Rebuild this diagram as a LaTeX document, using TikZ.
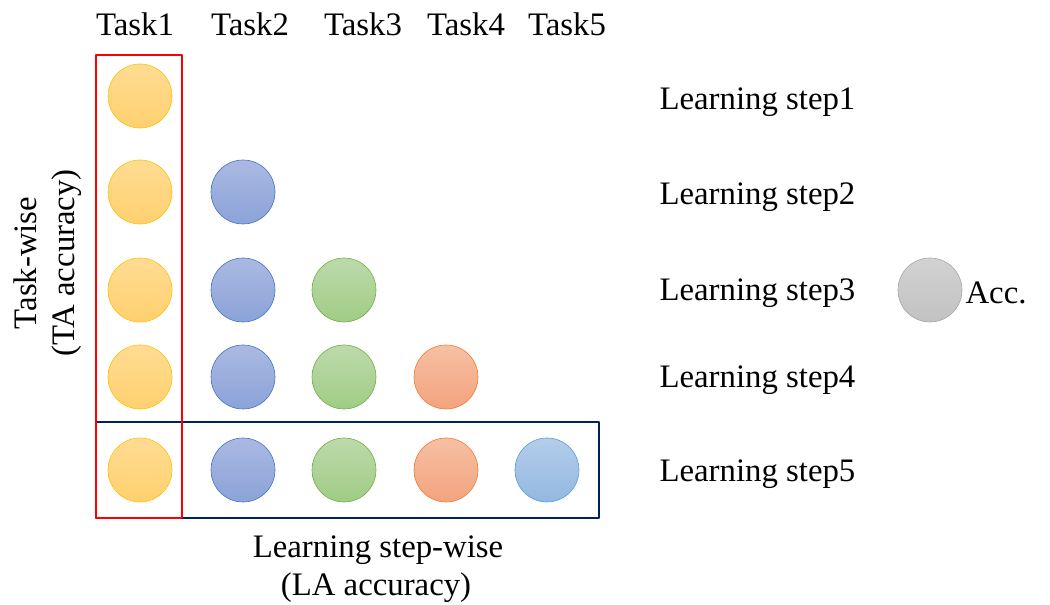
\documentclass[tikz,border=0pt]{standalone}
\usepackage{fontspec}
\setmainfont{Liberation Serif}
\definecolor{yelA}{HTML}{FFDC94}\definecolor{yelB}{HTML}{FFD06E}\definecolor{yelD}{HTML}{FFC000}
\definecolor{bluA}{HTML}{AAB9E2}\definecolor{bluB}{HTML}{8BA3D8}\definecolor{bluD}{HTML}{4472C4}
\definecolor{grnA}{HTML}{BCDAAA}\definecolor{grnB}{HTML}{A0CC86}\definecolor{grnD}{HTML}{70AD47}
\definecolor{orgA}{HTML}{F6C0A4}\definecolor{orgB}{HTML}{F3A37E}\definecolor{orgD}{HTML}{ED7D31}
\definecolor{lbuA}{HTML}{B4CDEA}\definecolor{lbuB}{HTML}{93B8E2}\definecolor{lbuD}{HTML}{5B9BD5}
\definecolor{gryA}{HTML}{D2D2D2}\definecolor{gryB}{HTML}{C2C2C2}\definecolor{gryD}{HTML}{A5A5A5}
\definecolor{navy}{HTML}{002060}
\tikzset{
  dot/.style={circle,minimum size=64bp,inner sep=0pt,line width=0.6bp},
  t1/.style={dot,draw=yelD,top color=yelA,bottom color=yelB},
  t2/.style={dot,draw=bluD,top color=bluA,bottom color=bluB},
  t3/.style={dot,draw=grnD,top color=grnA,bottom color=grnB},
  t4/.style={dot,draw=orgD,top color=orgA,bottom color=orgB},
  t5/.style={dot,draw=lbuD,top color=lbuA,bottom color=lbuB},
  lbl/.style={font=\fontsize{32.8bp}{38bp}\selectfont},
}
\begin{document}
\begin{tikzpicture}[line join=bevel]
\useasboundingbox (0bp,0bp) rectangle (1050bp,605bp);
%% task headers
\node (h1) at (135bp,581bp) [lbl] {Task1};
  \node (h2) at (250bp,581bp) [lbl] {Task2};
  \node (h3) at (363bp,581bp) [lbl] {Task3};
  \node (h4) at (466bp,581bp) [lbl] {Task4};
  \node (h5) at (567bp,581bp) [lbl] {Task5};
%% accuracy dots
\node (a11) at (140bp,509bp) [t1] {};
  \node (a21) at (140bp,413bp) [t1] {};
  \node (a22) at (243bp,413bp) [t2] {};
  \node (a31) at (140bp,315bp) [t1] {};
  \node (a32) at (243bp,315bp) [t2] {};
  \node (a33) at (344bp,315bp) [t3] {};
  \node (a41) at (140bp,228bp) [t1] {};
  \node (a42) at (243bp,228bp) [t2] {};
  \node (a43) at (344bp,228bp) [t3] {};
  \node (a44) at (446bp,228bp) [t4] {};
  \node (a51) at (140bp,135bp) [t1] {};
  \node (a52) at (243bp,135bp) [t2] {};
  \node (a53) at (344bp,135bp) [t3] {};
  \node (a54) at (446bp,135bp) [t4] {};
  \node (a55) at (547bp,135bp) [t5] {};
%% step labels
\node (s1) at (656bp,503bp) [lbl,anchor=west] {Learning step1};
  \node (s2) at (656bp,408bp) [lbl,anchor=west] {Learning step2};
  \node (s3) at (656bp,312bp) [lbl,anchor=west] {Learning step3};
  \node (s4) at (656bp,225bp) [lbl,anchor=west] {Learning step4};
  \node (s5) at (656bp,131bp) [lbl,anchor=west] {Learning step5};
%% legend
\node (acc) at (930bp,315bp) [dot,draw=gryD,top color=gryA,bottom color=gryB] {};
  \node (acclbl) at (962bp,312bp) [lbl,anchor=west] {Acc.};
%% axis captions
\node (tw) at (48bp,342bp) [lbl,rotate=90,align=center] {Task-wise\\(TA accuracy)};
  \node (lw) at (378bp,55bp) [lbl] {Learning step-wise};
  \node (la) at (376bp,17bp) [lbl] {(LA accuracy)};
%% boxes
\draw [navy,line width=2bp] (96bp,87bp) rectangle (599bp,183bp);
  \draw [red,line width=2bp] (96bp,87bp) rectangle (182bp,550bp);
%
\end{tikzpicture}
\end{document}
